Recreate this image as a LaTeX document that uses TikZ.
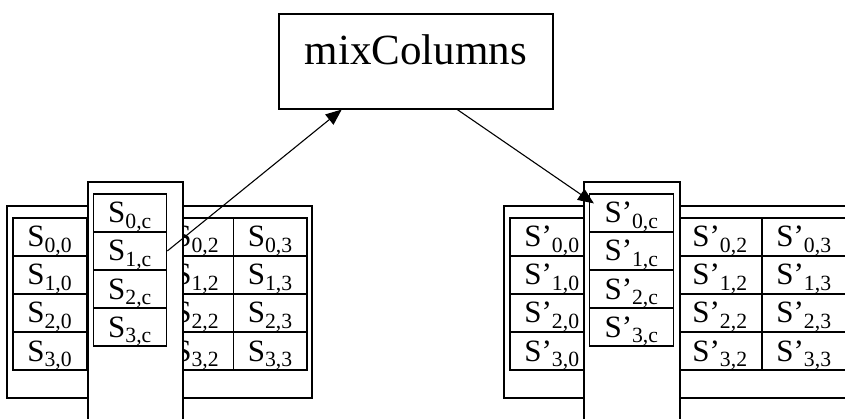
\documentclass[tikz,border=0pt]{standalone}
\usepackage{fontspec}
\setmainfont{Liberation Serif}
\usetikzlibrary{arrows.meta,positioning,calc}
\newcommand{\Sij}[1]{S\textsubscript{#1}}
\newcommand{\Spij}[1]{S’\textsubscript{#1}}

\begin{document}
\begin{tikzpicture}[x=1pt,y=-1pt,line width=1.1pt,
  frame/.style={draw,fill=white},
  lcell/.style={draw,minimum width=73.5pt,text height=29pt,text depth=9pt,inner sep=0pt,font=\fontsize{31}{34}\selectfont},
  rcell/.style={lcell,minimum width=84pt},
  arr/.style={-{Triangle[length=16pt,width=13pt]}}]
\clip (0,0) rectangle (845,419);
% state before
\draw[frame] (7,206) rectangle (312,398);
\foreach \r in {0,...,3}
  \foreach \c in {0,2,3}
    \node[lcell] (L\r\c) at (49.75+73.5*\c,237+38*\r) {\Sij{\r,\c}};
\draw[frame] (88,182) rectangle (183,430);
\foreach \r in {0,...,3}
  \node[lcell] (Lc\r) at (130,213+38*\r) {\Sij{\r,c}};
% state after
\draw[frame] (504,206) rectangle (860,398);
\foreach \r in {0,...,3}
  \foreach \c in {0,2,3}
    \node[rcell] (R\r\c) at (552+84*\c,237+38*\r) {\Spij{\r,\c}};
\draw[frame] (584,182) rectangle (680,430);
\foreach \r in {0,...,3}
  \node[rcell] (Rc\r) at (631.5,213+38*\r) {\Spij{\r,c}};
% the transform
\node[draw,minimum width=274pt,text height=51pt,text depth=44pt,inner sep=0pt,
  font=\fontsize{43}{46}\selectfont] (mix) at (416,61.5) {mixColumns};
\coordinate (in) at ($(mix.south west)!0.23!(mix.south east)$);
\coordinate (out) at ($(mix.south west)!0.65!(mix.south east)$);
\coordinate (hit) at ($(Rc0.north west)+(5,10)$);
\draw[arr] (Lc1.east) -- (in);
\draw[arr] (out) -- (hit);
\end{tikzpicture}
\end{document}
